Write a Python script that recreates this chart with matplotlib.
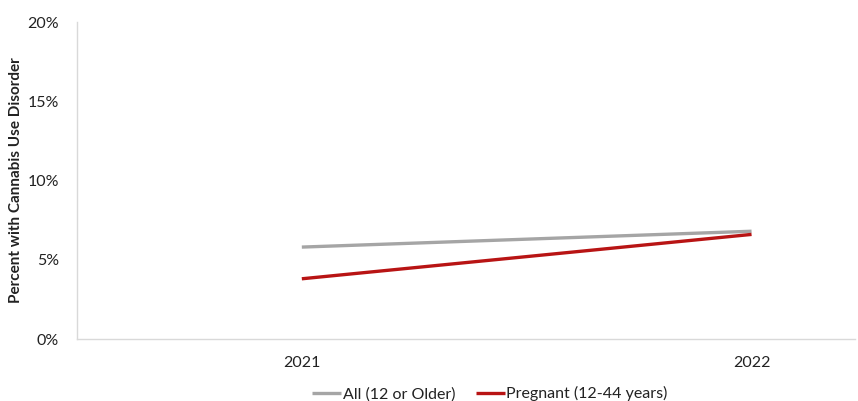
import matplotlib.pyplot as plt
from matplotlib.ticker import PercentFormatter

plt.rcParams['font.family'] = ['Lato', 'DejaVu Sans']

years = ['2021', '2022']
all_12_older = [5.8, 6.8]
pregnant = [3.8, 6.6]

fig = plt.figure(figsize=(8.58, 4.01), dpi=100)
ax = fig.add_axes([0.0897, 0.1546, 0.9068, 0.7904])

x = range(len(years))
ax.plot(x, all_12_older, color='#A5A5A5', lw=2.4, label='All (12 or Older)', solid_capstyle='butt')
ax.plot(x, pregnant, color='#B81414', lw=2.4, label='Pregnant (12-44 years)', solid_capstyle='butt')

ax.set_xlim(-0.5, 1.23)
ax.set_ylim(0, 20)
ax.set_yticks([0, 5, 10, 15, 20])
ax.yaxis.set_major_formatter(PercentFormatter(decimals=0))
ax.set_xticks(list(x))
ax.set_xticklabels(years)
ax.tick_params(axis='both', length=0, labelsize=11.5, colors='#222222')
ax.tick_params(axis='x', pad=12)
ax.tick_params(axis='y', pad=13)

for s in ['top', 'right']:
    ax.spines[s].set_visible(False)
for s in ['left', 'bottom']:
    ax.spines[s].set_color('#D9D9D9')
    ax.spines[s].set_linewidth(1)

ax.set_ylabel('Percent with Cannabis Use Disorder', fontsize=11, fontweight='bold',
              color='#222222')
ax.yaxis.set_label_coords(-0.07, 0.5)

fig.legend(loc='lower center', bbox_to_anchor=(0.571, -0.005), ncol=2, frameon=False,
           fontsize=11.5, handlelength=1.8, handletextpad=0.1, columnspacing=1.3,
           labelcolor='#222222', borderaxespad=0, borderpad=0.1)

fig.savefig('out.png', dpi=100)
